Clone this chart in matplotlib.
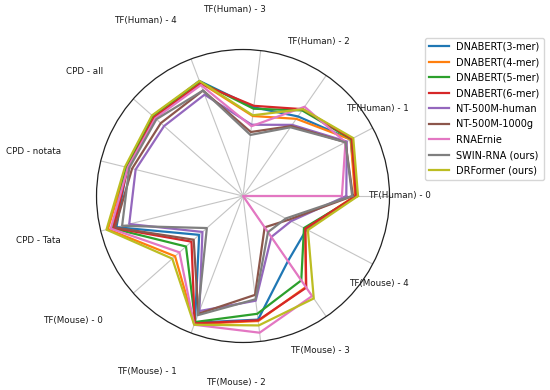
import numpy as np
import matplotlib
matplotlib.use("Agg")
import matplotlib.pyplot as plt

# axes of the radar, counter-clockwise from the right
categories = ["TF(Human) - 0", "TF(Human) - 1", "TF(Human) - 2", "TF(Human) - 3",
              "TF(Human) - 4", "CPD - all", "CPD - notata", "CPD - Tata",
              "TF(Mouse) - 0", "TF(Mouse) - 1", "TF(Mouse) - 2", "TF(Mouse) - 3",
              "TF(Mouse) - 4"]

# values (fraction of the outer circle)
dnabert3 = [0.775, 0.83, 0.66, 0.61, 0.84, 0.82, 0.815, 0.89, 0.40, 0.925, 0.85, 0.54, 0.49]
dnabert4 = [0.765, 0.83, 0.64, 0.55, 0.83, 0.815, 0.82, 0.95, 0.62, 0.935, 0.86, 0.755, 0.48]
dnabert5 = [0.78, 0.835, 0.71, 0.60, 0.835, 0.825, 0.82, 0.92, 0.52, 0.92, 0.81, 0.70, 0.47]
dnabert6 = [0.77, 0.84, 0.72, 0.62, 0.82, 0.81, 0.81, 0.91, 0.47, 0.93, 0.855, 0.76, 0.48]
nt_human = [0.705, 0.80, 0.59, 0.49, 0.74, 0.72, 0.755, 0.80, 0.37, 0.84, 0.72, 0.34, 0.37]
nt_1000g = [0.75, 0.79, 0.58, 0.44, 0.77, 0.75, 0.78, 0.90, 0.45, 0.86, 0.68, 0.26, 0.35]
rnaernie = [0.675, 0.79, 0.74, 0.48, 0.81, 0.80, 0.81, 0.93, 0.58, 0.94, 0.94, 0.83, 0.0]
swin_rna = [0.745, 0.79, 0.57, 0.42, 0.77, 0.79, 0.80, 0.85, 0.33, 0.87, 0.71, 0.30, 0.33]
drformer = [0.785, 0.85, 0.72, 0.555, 0.84, 0.83, 0.83, 0.96, 0.645, 0.94, 0.89, 0.85, 0.50]

series = [
    ("DNABERT(3-mer)", dnabert3),
    ("DNABERT(4-mer)", dnabert4),
    ("DNABERT(5-mer)", dnabert5),
    ("DNABERT(6-mer)", dnabert6),
    ("NT-500M-human", nt_human),
    ("NT-500M-1000g", nt_1000g),
    ("RNAErnie", rnaernie),
    ("SWIN-RNA (ours)", swin_rna),
    ("DRFormer (ours)", drformer),
]
colors = ["#1f77b4", "#ff7f0e", "#2ca02c", "#d62728", "#9467bd",
          "#8c564b", "#e377c2", "#7f7f7f", "#bcbd22"]

n = len(categories)
angles = np.linspace(0, 2 * np.pi, n, endpoint=False)
angles_closed = np.append(angles, angles[0])

fig = plt.figure(figsize=(5.5, 3.9), dpi=100)
ax = fig.add_axes([0.1755, 0.1218, 0.5327, 0.7513], projection="polar")

for (name, vals), c in zip(series, colors):
    v = np.append(vals, vals[0])
    ax.plot(angles_closed, v, color=c, linewidth=1.6, label=name)

ax.set_ylim(0, 1)
ax.set_yticks([])
ax.set_xticks(angles)
ax.set_xticklabels([])
ax.xaxis.grid(True, color="#c4c4c4", linewidth=0.8)
ax.yaxis.grid(False)
ax.spines["polar"].set_color("#222222")
ax.spines["polar"].set_linewidth(0.9)

# category labels, anchored at their right edge
for a, lab in zip(angles, categories):
    ax.text(a, 1.28, lab, ha="right", va="center", fontsize=6.3, color="#1a1a1a")

fig.legend(loc="upper left", bbox_to_anchor=(425 / 550, 1 - 38 / 390),
           fontsize=7.05, labelspacing=0.56, borderaxespad=0)

fig.savefig("out.png", dpi=100)
